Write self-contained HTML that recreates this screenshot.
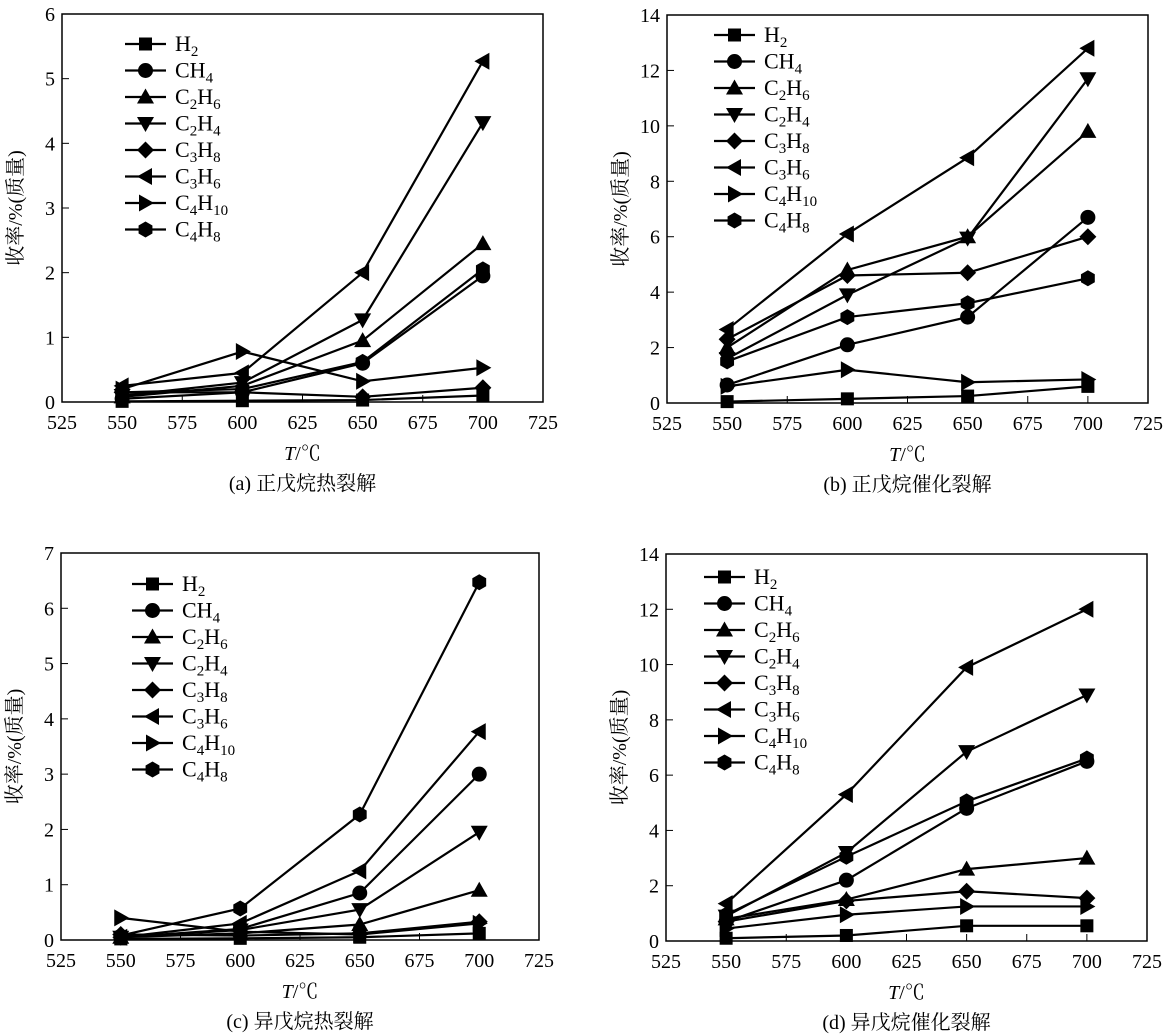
<!DOCTYPE html>
<html><head><meta charset="utf-8">
<style>
body{margin:0;background:#fff;}
svg{display:block;font-family:"Liberation Serif","Noto Serif CJK SC","Noto Sans CJK SC",serif;}
</style></head>
<body>
<svg id="fig" width="1169" height="1036" viewBox="0 0 1169 1036" xmlns="http://www.w3.org/2000/svg"></svg>
<script>
const xCategories=[550,600,650,700];
const xTicks=[525,550,575,600,625,650,675,700,725];
const seriesNames=["H2","CH4","C2H6","C2H4","C3H8","C3H6","C4H10","C4H8"];
const yTicksA=[0,1,2,3,4,5,6];
const yTicksB=[0,2,4,6,8,10,12,14];
const yTicksC=[0,1,2,3,4,5,6,7];
const yTicksD=[0,2,4,6,8,10,12,14];
// panel a: n-pentane thermal cracking
const aH2=[0.01,0.02,0.03,0.1];
const aCH4=[0.05,0.15,0.6,1.95];
const aC2H6=[0.08,0.25,0.95,2.45];
const aC2H4=[0.1,0.3,1.27,4.32];
const aC3H8=[0.15,0.15,0.08,0.22];
const aC3H6=[0.25,0.45,2.0,5.27];
const aC4H10=[0.2,0.78,0.32,0.53];
const aC4H8=[0.15,0.2,0.62,2.05];
// panel b: n-pentane catalytic cracking
const bH2=[0.05,0.15,0.25,0.6];
const bCH4=[0.65,2.1,3.1,6.7];
const bC2H6=[2.0,4.8,6.0,9.8];
const bC2H4=[1.6,3.9,5.95,11.7];
const bC3H8=[2.3,4.6,4.7,6.0];
const bC3H6=[2.65,6.1,8.85,12.8];
const bC4H10=[0.6,1.2,0.75,0.85];
const bC4H8=[1.5,3.1,3.6,4.5];
// panel c: isopentane thermal cracking
const cH2=[0.02,0.03,0.05,0.12];
const cCH4=[0.05,0.2,0.85,3.0];
const cC2H6=[0.05,0.12,0.28,0.9];
const cC2H4=[0.05,0.18,0.55,1.95];
const cC3H8=[0.1,0.08,0.12,0.33];
const cC3H6=[0.05,0.3,1.25,3.77];
const cC4H10=[0.4,0.15,0.1,0.3];
const cC4H8=[0.08,0.57,2.27,6.47];
// panel d: isopentane catalytic cracking
const dH2=[0.1,0.2,0.55,0.55];
const dCH4=[0.7,2.2,4.8,6.5];
const dC2H6=[0.8,1.5,2.6,3.0];
const dC2H4=[0.9,3.2,6.85,8.9];
const dC3H8=[0.7,1.45,1.8,1.55];
const dC3H6=[1.35,5.3,9.9,12.0];
const dC4H10=[0.45,0.95,1.25,1.25];
const dC4H8=[0.95,3.05,5.05,6.6];

const NS="http://www.w3.org/2000/svg";
const svg=document.getElementById('fig');
function mk(tag,attrs,parent){const e=document.createElementNS(NS,tag);for(const k in attrs)e.setAttribute(k,attrs[k]);(parent||svg).appendChild(e);return e;}

const markerKinds=["square","circle","up","down","diamond","left","right","hex"];
function marker(g,kind,x,y){
  let e;
  if(kind==="square")e=mk('rect',{x:x-6.5,y:y-6.5,width:13,height:13,fill:'#000'},g);
  else if(kind==="circle")e=mk('circle',{cx:x,cy:y,r:7.5,fill:'#000'},g);
  else{
    let pts;
    if(kind==="up")pts=[[x,y-8.5],[x+8.5,y+6.5],[x-8.5,y+6.5]];
    else if(kind==="down")pts=[[x,y+8.5],[x+8.5,y-6.5],[x-8.5,y-6.5]];
    else if(kind==="diamond")pts=[[x,y-8.5],[x+8.5,y],[x,y+8.5],[x-8.5,y]];
    else if(kind==="left")pts=[[x-8.5,y],[x+6.5,y-8.5],[x+6.5,y+8.5]];
    else if(kind==="right")pts=[[x+8.5,y],[x-6.5,y-8.5],[x-6.5,y+8.5]];
    else {pts=[];for(let i=0;i<6;i++){const a=Math.PI/6+i*Math.PI/3;pts.push([x+8*Math.cos(a),y+8*Math.sin(a)]);}}
    e=mk('polygon',{points:pts.map(p=>p.join(',')).join(' '),fill:'#000'},g);
  }
  return e;
}
function label(g,name,x,y){
  const t=mk('text',{x:x,y:y,'font-size':22,fill:'#000'},g);
  const re=/([A-Z]+)|(\d+)/g;let mm;let prevSub=false;
  while((mm=re.exec(name))){
    const sub=!mm[1];
    const ts=mk('tspan',{},t);ts.textContent=sub?mm[2]:mm[1];
    if(sub)ts.setAttribute('font-size',15);
    ts.setAttribute('dy',sub&&!prevSub?5:(!sub&&prevSub?-5:0));
    prevSub=sub;
  }
  return t;
}

function panel(cfg){
  const g=mk('g',{});
  
  
  const {L,R,T,B,yMax}=cfg;
  const xs=v=>L+(v-525)/200*(R-L);
  const ys=v=>B-v/yMax*(B-T);
  const frame=mk('rect',{x:L,y:T,width:R-L,height:B-T,fill:'none',stroke:'#000','stroke-width':1.5},g);
  
  
  xTicks.forEach(v=>{
    mk('line',{x1:xs(v),x2:xs(v),y1:B,y2:B-7,stroke:'#000','stroke-width':1},g);
    const t=mk('text',{x:xs(v),y:B+27,'font-size':20,'text-anchor':'middle'},g);t.textContent=v;
    
    
  });
  cfg.yTicks.forEach(v=>{
    mk('line',{x1:L,x2:L+7,y1:ys(v),y2:ys(v),stroke:'#000','stroke-width':1},g);
    const t=mk('text',{x:L-7,y:ys(v)+7,'font-size':20,'text-anchor':'end'},g);t.textContent=v;
    
    
  });
  const yt=mk('text',{x:0,y:0,'font-size':20,'text-anchor':'middle',transform:`translate(${L-40},${(T+B)/2}) rotate(-90)`},g);
  yt.textContent='收率/%(质量)';
  
  
  const xt=mk('text',{x:(L+R)/2,y:B+58,'font-size':20,'text-anchor':'middle'},g);
  xt.innerHTML='<tspan font-style="italic">T</tspan>/℃';
  
  
  const cp=mk('text',{x:(L+R)/2,y:B+88,'font-size':20,'text-anchor':'middle'},g);
  cp.textContent=cfg.caption;
  
  
  cfg.series.forEach((vals,i)=>{
    const sg=mk('g',{},g);
    
    
    const pts=vals.map((v,j)=>[xs(xCategories[j]),ys(v)]);
    mk('polyline',{points:pts.map(p=>p.join(',')).join(' '),fill:'none',stroke:'#000','stroke-width':2.2},sg);
    pts.forEach(p=>{const m=marker(sg,markerKinds[i],p[0],p[1]);
      
      });
  });
  const lg=mk('g',{},g);
  
  
  seriesNames.forEach((n,i)=>{
    const y=cfg.legY+i*26.5;
    const eg=mk('g',{},lg);
    
    
    mk('line',{x1:cfg.legX,x2:cfg.legX+41,y1:y,y2:y,stroke:'#000','stroke-width':2.2},eg);
    marker(eg,markerKinds[i],cfg.legX+20.5,y);
    label(eg,n,cfg.legX+50,y+7);
  });
}
panel({name:'panel-a',L:62,R:543,T:14,B:402,yMax:6,yTicks:yTicksA,caption:'(a) 正戊烷热裂解',legX:125,legY:44,
  series:[aH2,aCH4,aC2H6,aC2H4,aC3H8,aC3H6,aC4H10,aC4H8]});
panel({name:'panel-b',L:667,R:1148,T:15,B:403,yMax:14,yTicks:yTicksB,caption:'(b) 正戊烷催化裂解',legX:714,legY:35,
  series:[bH2,bCH4,bC2H6,bC2H4,bC3H8,bC3H6,bC4H10,bC4H8]});
panel({name:'panel-c',L:61,R:539,T:553,B:940,yMax:7,yTicks:yTicksC,caption:'(c) 异戊烷热裂解',legX:132,legY:584,
  series:[cH2,cCH4,cC2H6,cC2H4,cC3H8,cC3H6,cC4H10,cC4H8]});
panel({name:'panel-d',L:666,R:1147,T:554,B:941,yMax:14,yTicks:yTicksD,caption:'(d) 异戊烷催化裂解',legX:704,legY:577,
  series:[dH2,dCH4,dC2H6,dC2H4,dC3H8,dC3H6,dC4H10,dC4H8]});
</script>
</body></html>
